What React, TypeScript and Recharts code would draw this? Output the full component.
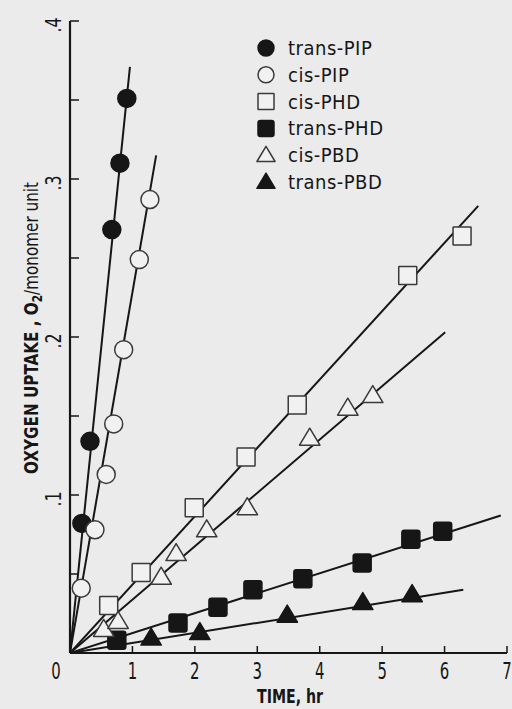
import React from 'react';
import { ScatterChart, Scatter, XAxis, YAxis, Legend } from 'recharts';

// ---------- data (time in hr, oxygen uptake in O2 / monomer unit) ----------
const seriesNames = ['trans-PIP', 'cis-PIP', 'cis-PHD', 'trans-PHD', 'cis-PBD', 'trans-PBD'];

const transPIP_t = [0.19, 0.32, 0.67, 0.8, 0.91];
const transPIP_o2 = [0.082, 0.134, 0.268, 0.31, 0.351];

const cisPIP_t = [0.18, 0.4, 0.58, 0.7, 0.86, 1.11, 1.28];
const cisPIP_o2 = [0.041, 0.078, 0.113, 0.145, 0.192, 0.249, 0.287];

const cisPHD_t = [0.62, 1.14, 1.99, 2.82, 3.64, 5.41, 6.28];
const cisPHD_o2 = [0.03, 0.051, 0.092, 0.124, 0.157, 0.239, 0.264];

const transPHD_t = [0.75, 1.73, 2.37, 2.93, 3.73, 4.68, 5.46, 5.97];
const transPHD_o2 = [0.008, 0.019, 0.029, 0.04, 0.047, 0.057, 0.072, 0.077];

const cisPBD_t = [0.54, 0.77, 1.46, 1.7, 2.19, 2.84, 3.84, 4.45, 4.85];
const cisPBD_o2 = [0.015, 0.02, 0.048, 0.063, 0.078, 0.092, 0.136, 0.155, 0.163];

const transPBD_t = [1.3, 2.08, 3.48, 4.69, 5.48];
const transPBD_o2 = [0.0095, 0.013, 0.024, 0.032, 0.037];

// fitted straight lines, all starting at the origin
const fitStartT = 0;
const fitStartO2 = 0;
const fitEndT = [0.96, 1.38, 6.54, 6.9, 6.01, 6.3];
const fitEndO2 = [0.371, 0.315, 0.283, 0.087, 0.203, 0.04];

const xTicks = [0, 1, 2, 3, 4, 5, 6, 7];
const xTickLabels = ['0', '1', '2', '3', '4', '5', '6', '7'];
const yTicks = [0, 0.05, 0.1, 0.15, 0.2, 0.25, 0.3, 0.35, 0.4];
const yTickLabels = ['', '', '.1', '', '.2', '', '.3', '', '.4'];

const xTitle = 'TIME, hr';
const yTitleA = 'OXYGEN UPTAKE , O';
const yTitleSub = '2';
const yTitleB = '/monomer unit';

// ---------- styles ----------
const INK = '#161616';
const PAPER = '#ebebeb';
const HOLLOW = '#f1f1f1';
const FONT = '"DejaVu Sans Condensed", "DejaVu Sans", sans-serif';
const markerKinds = ['circleFilled', 'circleOpen', 'squareOpen', 'squareFilled', 'triangleOpen', 'triangleFilled'];

const zip = (t: number[], o: number[]) => t.map((v, i) => ({ t: v, o2: o[i] }));
const seriesData = [
  zip(transPIP_t, transPIP_o2),
  zip(cisPIP_t, cisPIP_o2),
  zip(cisPHD_t, cisPHD_o2),
  zip(transPHD_t, transPHD_o2),
  zip(cisPBD_t, cisPBD_o2),
  zip(transPBD_t, transPBD_o2),
];
const fitData = fitEndT.map((t, i) => [
  { t: fitStartT, o2: fitStartO2 },
  { t, o2: fitEndO2[i] },
]);

function Marker({ kind, cx, cy, s = 9 }: { kind: string; cx: number; cy: number; s?: number }) {
  const filled = kind.endsWith('Filled');
  const fill = filled ? INK : HOLLOW;
  const stroke = filled ? INK : '#3a3a3a';
  const sw = 1.5;
  if (kind.startsWith('circle')) {
    return <circle cx={cx} cy={cy} r={s} fill={fill} stroke={stroke} strokeWidth={sw} />;
  }
  if (kind.startsWith('square')) {
    return (
      <rect x={cx - s} y={cy - s} width={2 * s} height={2 * s} rx={filled ? 2.5 : 0.5}
        fill={fill} stroke={stroke} strokeWidth={sw} />
    );
  }
  const h = s * 1.05;
  const pts = `${cx},${cy - h * 1.05} ${cx - h * 1.08},${cy + h * 0.75} ${cx + h * 1.08},${cy + h * 0.75}`;
  return <polygon points={pts} fill={fill} stroke={stroke} strokeWidth={sw} strokeLinejoin="round" />;
}

const XTick = (props: any) => {
  const { x, y, payload, index } = props;
  const label = xTickLabels[index] ?? String(payload.value);
  const dx = payload.value === 0 ? -14 : 0;
  return (
    <g transform={`translate(${x + dx},${y + 26}) scale(0.72,1)`}>
      <text x={0} y={0} textAnchor="middle" fontFamily={FONT} fontSize={23} fill={INK}>
        {label}
      </text>
    </g>
  );
};

const YTick = (props: any) => {
  const { x, y, index } = props;
  const label = yTickLabels[index] ?? '';
  if (!label) return <g />;
  return (
    <g transform={`translate(${x - 17},${y + 4}) rotate(-90) scale(0.8,1)`}>
      <text x={0} y={0} dy="0.36em" textAnchor="middle" fontFamily={FONT} fontSize={22} fill={INK}>
        {label}
      </text>
    </g>
  );
};

const YTitle = () => (
  <text
    transform="translate(38,328) rotate(-90)"
    textAnchor="middle"
    fontFamily={FONT}
    fontSize={20}
    fontWeight="bold"
    fill={INK}
    textLength={292}
    lengthAdjust="spacingAndGlyphs"
  >
    {yTitleA}
    <tspan fontSize={14} dy={4}>{yTitleSub}</tspan>
    <tspan fontWeight="normal" dy={-4}>{yTitleB}</tspan>
  </text>
);

const XTitle = () => (
  <text x={290} y={703} textAnchor="middle" fontFamily={FONT} fontSize={20} fontWeight="bold"
    fill={INK} textLength={66} lengthAdjust="spacingAndGlyphs">
    {xTitle}
  </text>
);

const LegendBox = () => (
  <svg width={150} height={170} style={{ display: 'block', overflow: 'visible' }}>
    {seriesNames.map((name, i) => (
      <g key={name} transform={`translate(0,${i * 26.8})`}>
        <Marker kind={markerKinds[i]} cx={11} cy={12} s={8} />
        <text x={33} y={19} fontFamily={FONT} fontSize={20} fill={INK} letterSpacing={0.5}>
          {name}
        </text>
      </g>
    ))}
  </svg>
);

export default function App() {
  return (
    <div style={{ position: 'absolute', left: 0, top: 0, width: 512, height: 709, background: PAPER, overflow: 'hidden' }}>
      <ScatterChart width={512} height={709} margin={{ top: 21, right: 5, bottom: 0, left: 0 }}>
        <XAxis
          type="number"
          dataKey="t"
          domain={[0, 7]}
          ticks={xTicks}
          allowDataOverflow
          height={56}
          axisLine={{ stroke: INK, strokeWidth: 2.2 }}
          tickLine={{ stroke: INK, strokeWidth: 1.5 }}
          tickSize={-7}
          tickMargin={7}
          tick={<XTick />}
          label={<XTitle />}
        />
        <YAxis
          type="number"
          dataKey="o2"
          domain={[0, 0.4]}
          ticks={yTicks}
          allowDataOverflow
          width={70}
          axisLine={{ stroke: INK, strokeWidth: 2.2 }}
          tickLine={{ stroke: INK, strokeWidth: 1.5 }}
          tickSize={-9}
          tickMargin={9}
          tick={<YTick />}
          label={<YTitle />}
        />
        <Legend
          layout="vertical"
          align="center"
          verticalAlign="middle"
          content={() => <LegendBox />}
          wrapperStyle={{ left: 255, top: 36, width: 150, height: 170 }}
        />
        {fitData.map((d, i) => (
          <Scatter
            key={'fit' + i}
            data={d}
            line={{ stroke: INK, strokeWidth: 2 }}
            shape={() => <g />}
            legendType="none"
            isAnimationActive={false}
          />
        ))}
        {seriesData.map((d, i) => (
          <Scatter
            key={seriesNames[i]}
            name={seriesNames[i]}
            data={d}
            shape={(p: any) => <Marker kind={markerKinds[i]} cx={p.cx} cy={p.cy} />}
            isAnimationActive={false}
          />
        ))}
      </ScatterChart>
    </div>
  );
}
